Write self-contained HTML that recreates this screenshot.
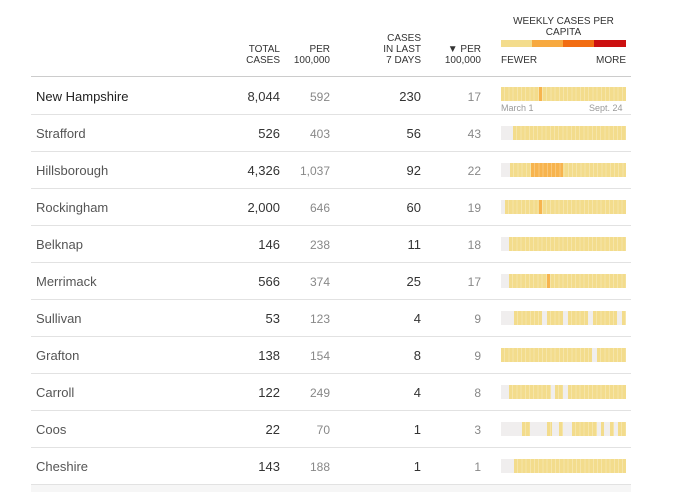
<!DOCTYPE html><html><head><style>
body{margin:0;width:673px;height:492px;background:#fff;font-family:"Liberation Sans",sans-serif;position:relative;overflow:hidden}
.a{position:absolute}
.h{font-size:10px;color:#333;text-align:right;line-height:11px}
.ln{position:absolute;left:31px;width:600px;height:1px;background:#e2e2e2}
.nm{position:absolute;left:36px;font-size:13px;color:#555}
.n{position:absolute;font-size:13px;color:#333;text-align:right}
.g{position:absolute;font-size:12px;color:#888;text-align:right}
.bar{position:absolute;left:501px;width:125px;height:14px;background:#f0eeee}
.s{position:absolute;top:0;height:14px;background:#f3dc8c;background-image:repeating-linear-gradient(90deg,transparent 0,transparent 3.2px,rgba(255,255,255,.25) 3.2px,rgba(255,255,255,.25) 4.2px)}
.o{background-color:#f7b44e}
</style></head><body>
<div class="a h" style="left:240px;top:44px;width:40px">TOTAL<br>CASES</div>
<div class="a h" style="left:280px;top:44px;width:50px">PER<br>100,000</div>
<div class="a h" style="left:370px;top:33px;width:51px">CASES<br>IN LAST<br>7 DAYS</div>
<div class="a h" style="left:431px;top:44px;width:50px">▼ PER<br>100,000</div>
<div class="a" style="left:501px;top:16px;width:125px;text-align:center;font-size:10px;color:#333;line-height:11px">WEEKLY CASES PER<br>CAPITA</div>
<div class="a" style="left:501px;top:40px;width:31px;height:7px;background:#f3dc8c"></div>
<div class="a" style="left:532px;top:40px;width:31px;height:7px;background:#f7a93f"></div>
<div class="a" style="left:563px;top:40px;width:31px;height:7px;background:#f26d12"></div>
<div class="a" style="left:594px;top:40px;width:32px;height:7px;background:#cc1010"></div>
<div class="a" style="left:501px;top:55px;font-size:10px;color:#333">FEWER</div>
<div class="a" style="left:596px;top:55px;font-size:10px;color:#333">MORE</div>
<div class="ln" style="top:76px;background:#ccc"></div>
<div class="a" style="left:501px;top:103px;font-size:9px;color:#999">March 1</div>
<div class="a" style="left:589px;top:103px;font-size:9px;color:#999">Sept. 24</div>
<div class="a" style="left:31px;top:485px;width:600px;height:7px;background:#f6f6f6"></div>
<div id="t"></div>
<script>
var rows=[
["New Hampshire","8,044","592","230","17",[[0,125,0],[38,41,1]]],
["Strafford","526","403","56","43",[[12,125,0]]],
["Hillsborough","4,326","1,037","92","22",[[9,125,0],[30,62,1]]],
["Rockingham","2,000","646","60","19",[[4,125,0],[38,41,1]]],
["Belknap","146","238","11","18",[[8,125,0]]],
["Merrimack","566","374","25","17",[[8,125,0],[46,49,1]]],
["Sullivan","53","123","4","9",[[13,41,0],[46,62,0],[67,87,0],[92,116,0],[121,125,0]]],
["Grafton","138","154","8","9",[[0,91,0],[96,125,0]]],
["Carroll","122","249","4","8",[[8,50,0],[54,62,0],[67,125,0]]],
["Coos","22","70","1","3",[[21,29,0],[46,51,0],[58,62,0],[71,96,0],[100,103,0],[109,113,0],[117,125,0]]],
["Cheshire","143","188","1","1",[[13,125,0]]]];
var h="";
rows.forEach(function(r,i){
 var c=96+i*37, top=c-7;
 var nmStyle=i==0?"color:#222":"";
 h+='<div class="nm" style="top:'+top+'px;'+nmStyle+'">'+r[0]+'</div>';
 h+='<div class="n" style="top:'+top+'px;left:230px;width:50px">'+r[1]+'</div>';
 h+='<div class="g" style="top:'+(top+1)+'px;left:280px;width:50px">'+r[2]+'</div>';
 h+='<div class="n" style="top:'+top+'px;left:371px;width:50px">'+r[3]+'</div>';
 h+='<div class="g" style="top:'+(top+1)+'px;left:431px;width:50px">'+r[4]+'</div>';
 var by=i==0?87:c-7;
 h+='<div class="bar" style="top:'+by+'px">';
 r[5].forEach(function(s){h+='<div class="s'+(s[2]?' o':'')+'" style="left:'+s[0]+'px;width:'+(s[1]-s[0])+'px"></div>';});
 h+='</div>';
 h+='<div class="ln" style="top:'+(c+18)+'px"></div>';
});
document.getElementById("t").innerHTML=h;
</script>
</body></html>
